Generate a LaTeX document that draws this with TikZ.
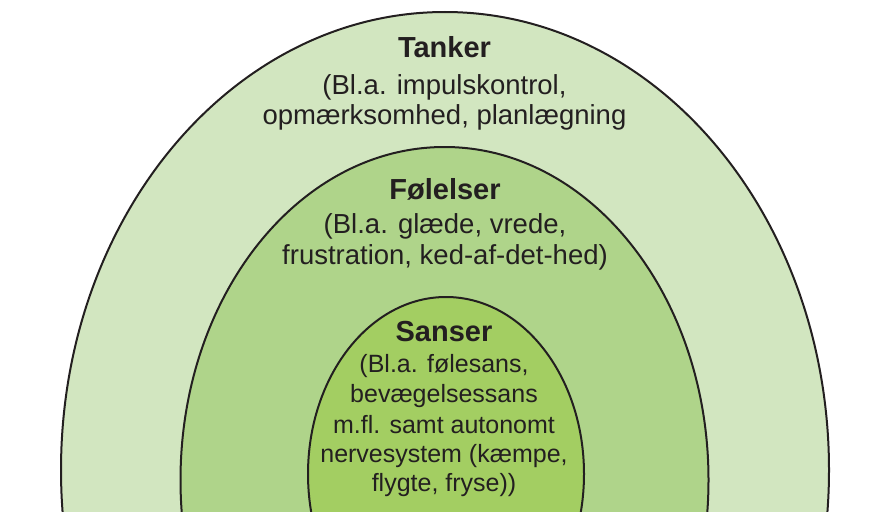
\documentclass[tikz,border=0pt]{standalone}
\usepackage{fontspec}
\setmainfont{Liberation Sans}
\definecolor{ringA}{RGB}{210,230,192}
\definecolor{ringB}{RGB}{175,212,138}
\definecolor{ringC}{RGB}{163,206,98}
\definecolor{inkc}{RGB}{35,31,32}
\begin{document}
\begin{tikzpicture}[x=1pt,y=-1pt,
  ring/.style={draw=inkc,line width=2pt},
  ttl/.style={anchor=base,inner sep=0pt,text=inkc,font=\fontsize{29}{34}\selectfont\bfseries},
  bodyA/.style={anchor=base,inner sep=0pt,text=inkc,font=\fontsize{27.5}{31}\selectfont},
  bodyB/.style={anchor=base,inner sep=0pt,text=inkc,font=\fontsize{25}{30}\selectfont}]
\useasboundingbox (0,0) rectangle (877,511);
\begin{scope}
\clip (0,0) rectangle (877,511);
\path[ring,fill=ringA] (445,470) ellipse [x radius=384pt, y radius=458pt];
\path[ring,fill=ringB] (444.5,480) ellipse [x radius=264pt, y radius=333pt];
\path[ring,fill=ringC] (446,474) ellipse [x radius=138pt, y radius=177pt];
\end{scope}
\node[ttl]   (tanker)  at (444.5,57.3) {Tanker};
\node[bodyA] (tankerA) at (444.5,94.3) {(Bl.a. impulskontrol,};
\node[bodyA] (tankerB) at (444.5,124) {opmærksomhed, planlægning};
\node[ttl]   (foel)    at (445,199.3) {Følelser};
\node[bodyA] (foelA)   at (445,233.3) {(Bl.a. glæde, vrede,};
\node[bodyA] (foelB)   at (445,264.3) {frustration, ked-af-det-hed)};
\node[ttl]   (sans)    at (444,341) {Sanser};
\node[bodyB] (sansA)   at (444,372.7) {(Bl.a. følesans,};
\node[bodyB] (sansB)   at (444,402) {bevægelsessans};
\node[bodyB] (sansC)   at (444,433) {m.fl. samt autonomt};
\node[bodyB] (sansD)   at (444,462.7) {nervesystem (kæmpe,};
\node[bodyB] (sansE)   at (444,491.7) {flygte, fryse))};
\end{tikzpicture}
\end{document}
